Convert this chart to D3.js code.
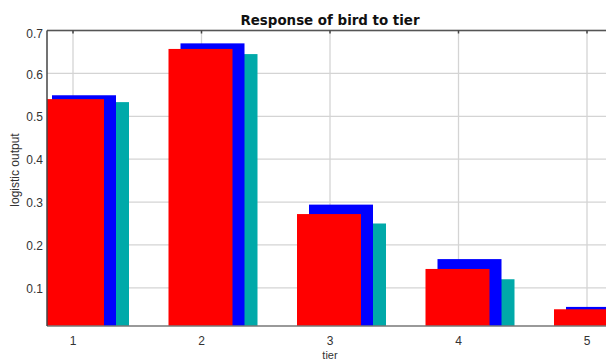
<!DOCTYPE html>
<html><head><meta charset="utf-8">
<script src="https://cdn.jsdelivr.net/npm/d3@7"></script>
<style>html,body{margin:0;padding:0;background:#fff;overflow:hidden}</style>
</head><body><svg id="c" width="606" height="360"></svg>
<script>
const tiers = [1, 2, 3, 4, 5];
const seriesNames = ["teal", "blue", "red"];
const tealValues = [0.533, 0.645, 0.250, 0.120, 0.040];
const blueValues = [0.549, 0.670, 0.294, 0.167, 0.0555];
const redValues  = [0.540, 0.657, 0.272, 0.144, 0.050];
const yTicks = [0.1, 0.2, 0.3, 0.4, 0.5, 0.6, 0.7];
const yDomain = [0.011, 0.7];

const svg = d3.select("#c");
const plot = {left: 47, top: 30.5, bottom: 326, right: 660};
const x = d3.scaleLinear().domain([1, 5]).range([73, 587]);
const y = d3.scaleLinear().domain(yDomain).range([plot.bottom, plot.top]);
const barW = 64;
const series = [
  {vals: tealValues, color: "#00a9a9", off: -8},
  {vals: blueValues, color: "#0000ff", off: -21},
  {vals: redValues,  color: "#ff0000", off: -33}
];

svg.append("clipPath").attr("id","pc").append("rect")
  .attr("x", plot.left).attr("y", plot.top).attr("width", plot.right - plot.left).attr("height", plot.bottom - plot.top);

// grid
const g = svg.append("g");
g.selectAll(".gy").data(yTicks).join("line")
  .attr("x1", plot.left).attr("x2", 606).attr("y1", d => y(d)).attr("y2", d => y(d))
  .attr("stroke", "#d4d4d4").attr("stroke-width", 1.3);
g.selectAll(".gx").data(tiers).join("line")
  .attr("x1", d => x(d)).attr("x2", d => x(d)).attr("y1", plot.top).attr("y2", plot.bottom)
  .attr("stroke", "#d4d4d4").attr("stroke-width", 1.3);

// bars
const bars = svg.append("g").attr("clip-path", "url(#pc)");
series.forEach(s => {
  bars.selectAll(null).data(tiers).join("rect")
    .attr("x", (d) => x(d) + s.off)
    .attr("width", barW)
    .attr("y", (d, i) => y(s.vals[i]))
    .attr("height", (d, i) => plot.bottom - y(s.vals[i]))
    .attr("fill", s.color);
});

// axes lines
svg.append("line").attr("x1", plot.left).attr("x2", 606).attr("y1", plot.top).attr("y2", plot.top)
  .attr("stroke", "#555").attr("stroke-width", 1.5);
svg.append("line").attr("x1", plot.left).attr("x2", 606).attr("y1", plot.bottom).attr("y2", plot.bottom)
  .attr("stroke", "#777").attr("stroke-width", 1.5);
svg.append("line").attr("x1", plot.left).attr("x2", plot.left).attr("y1", plot.top).attr("y2", plot.bottom)
  .attr("stroke", "#444").attr("stroke-width", 1.5);
// top tick marks
svg.selectAll(".tt").data(tiers).join("line")
  .attr("x1", d => x(d)).attr("x2", d => x(d)).attr("y1", plot.top).attr("y2", plot.top + 3)
  .attr("stroke", "#444").attr("stroke-width", 1.5);

// tick labels
svg.selectAll(".yl").data(yTicks).join("text")
  .attr("x", 43).attr("y", d => y(d) + (d === 0.7 ? 3 : 1)).attr("dy", "0.35em")
  .attr("text-anchor", "end").attr("font-family", "Liberation Sans, Arial, sans-serif")
  .attr("font-size", 12).attr("fill", "#333").text(d => d3.format(".1f")(d));
svg.selectAll(".xl").data(tiers).join("text")
  .attr("x", d => x(d)).attr("y", 340.5).attr("dy", "0.35em")
  .attr("text-anchor", "middle").attr("font-family", "Liberation Sans, Arial, sans-serif")
  .attr("font-size", 12).attr("fill", "#333").text(d => d);

svg.append("text").attr("x", 330).attr("y", 359).attr("text-anchor", "middle")
  .attr("font-family", "Liberation Sans, Arial, sans-serif").attr("font-size", 11).attr("fill", "#333").text("tier");
svg.append("text").attr("transform", "translate(19,170) rotate(-90)").attr("text-anchor", "middle")
  .attr("font-family", "Liberation Sans, Arial, sans-serif").attr("font-size", 12).attr("fill", "#333").text("logistic output");
svg.append("text").attr("x", 330).attr("y", 25).attr("text-anchor", "middle")
  .attr("font-family", "DejaVu Sans, sans-serif").attr("font-weight", "bold").attr("font-size", 13.4)
  .attr("fill", "#111").text("Response of bird to tier");
</script></body></html>
